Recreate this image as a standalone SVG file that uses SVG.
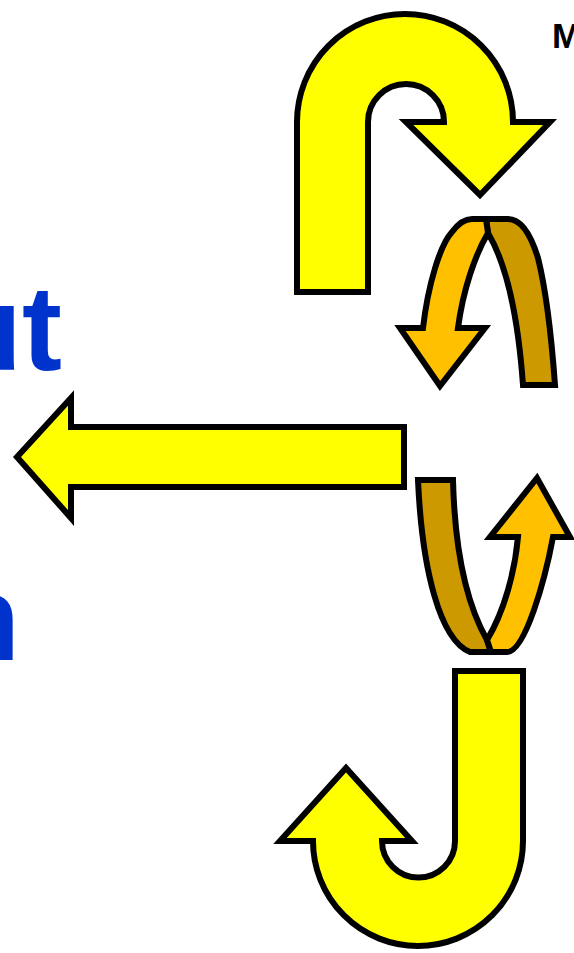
<svg xmlns="http://www.w3.org/2000/svg" width="574" height="953" viewBox="0 0 574 953">
<style>
.ar{stroke:#000;stroke-width:6;stroke-linejoin:miter;stroke-miterlimit:10}
.y{fill:#FFFF00}
.lo{fill:#FFC000}
.do{fill:#CC9900}
.big{font-family:"Liberation Sans",Arial,sans-serif;font-weight:bold;font-size:120px;fill:#0033CC}
</style>
<rect width="574" height="953" fill="#fff"/>
<g id="text-ut"><text class="big" x="62" y="370" text-anchor="end">ut</text></g>
<g id="text-n"><text class="big" x="20" y="660" text-anchor="end">n</text></g>
<g id="text-m"><text x="552" y="48" font-family="Liberation Sans,Arial,sans-serif" font-weight="bold" font-size="35" fill="#000">M</text></g>
<g id="connectors">
<g id="top-uturn"><path class="ar y" d="M297 292 L297 122 A108 108 0 0 1 513 122 L550 122 L480 195 L406 122 L444 122 A38 38 0 0 0 368 122 L368 292 Z"/></g>
<g id="upper-ribbon">
<path class="ar do" d="M486 219 L508 219 C520 219 530 232 538 258 C546 290 551 330 555 385 L523 385 C519 330 510 270 488 233 Z"/>
<path class="ar lo" d="M423 328 L400 328 L440 386 L485 328 L458 328 C463 290 475 255 488 233 L486 219 L472 219 C464 219 458 224 452 232 C440 245 428 285 423 328 Z"/>
</g>
<g id="left-arrow"><path class="ar y" d="M404 427 L404 487 L71 487 L71 518 L17 457 L71 398 L71 427 Z"/></g>
<g id="lower-ribbon">
<path class="ar do" d="M418 480 L453 480 C455 560 470 610 487 640 L491 652 L470 652 C440 640 422 570 418 480 Z"/>
<path class="ar lo" d="M487 640 C505 610 515 570 518 537 L490 537 L537 478 L570 537 L553 537 C545 580 525 652 507 652 L491 652 Z"/>
</g>
<g id="bottom-uturn"><path class="ar y" d="M455 671 L523 671 L523 841 A105 105 0 0 1 313 841 L280 841 L346 768 L412 841 L382 841 A36.5 36.5 0 0 0 455 841 Z"/></g>
</g>
</svg>
